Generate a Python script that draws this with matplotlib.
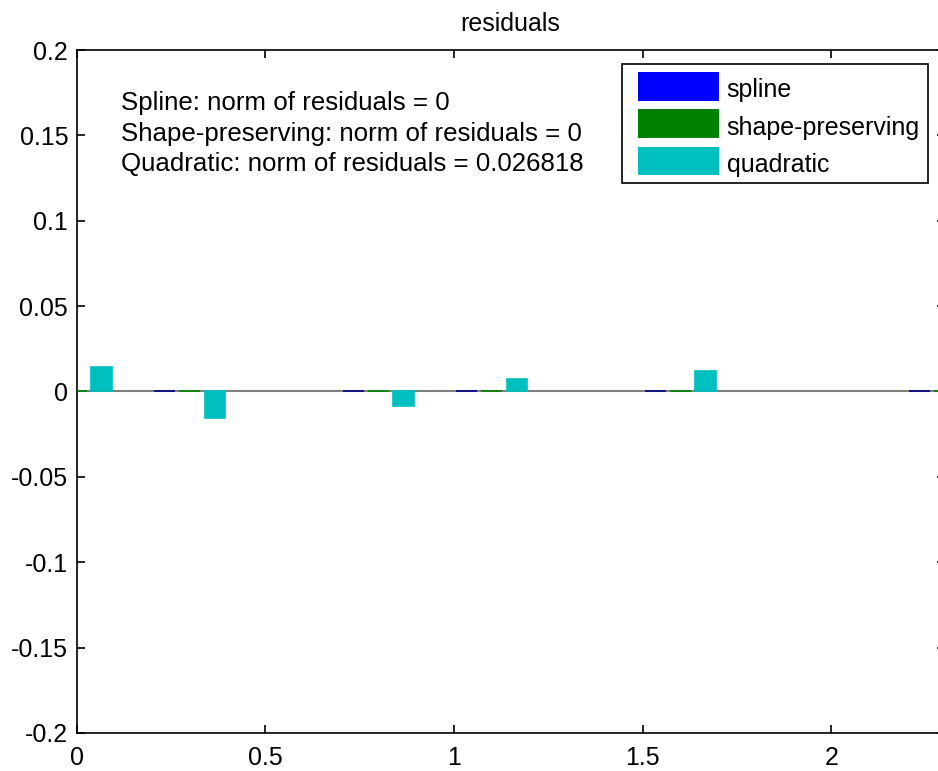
import matplotlib
matplotlib.use("Agg")
import matplotlib.pyplot as plt
import numpy as np
from matplotlib.container import BarContainer
from matplotlib.legend_handler import HandlerPatch, update_from_first_child

# Residuals of each fit at the data sites
x_sites = [0.0, 0.3, 0.8, 1.1, 1.6, 2.3]
spline_res = [0.0, 0.0, 0.0, 0.0, 0.0, 0.0]
shape_res = [0.0, 0.0, 0.0, 0.0, 0.0, 0.0]
quad_res = [0.0142, -0.0154, -0.0082, 0.0072, 0.0119, -0.0048]

series_names = ["spline", "shape-preserving", "quadratic"]
norm_lines = [
    "Spline: norm of residuals = 0",
    "Shape-preserving: norm of residuals = 0",
    "Quadratic: norm of residuals = 0.026818",
]
y_ticks = [-0.2, -0.15, -0.1, -0.05, 0, 0.05, 0.1, 0.15, 0.2]
y_tick_labels = ["-0.2", "-0.15", "-0.1", "-0.05", "0", "0.05", "0.1", "0.15", "0.2"]
x_ticks = [0, 0.5, 1, 1.5, 2]
x_tick_labels = ["0", "0.5", "1", "1.5", "2"]

face_colors = ["#0000ff", "#008000", "#00bfbf"]
edge_colors = ["#00007f", "#008000", "#00bfbf"]

plt.rcParams["font.family"] = ["Liberation Sans", "DejaVu Sans"]
FS = 18

fig = plt.figure(figsize=(9.38, 7.71), dpi=100)
W, H = 938, 771
left_px, right_px, top_px, bottom_px = 76.5, 944.7, 50, 733
ax = fig.add_axes([left_px / W, 1 - bottom_px / H,
                   (right_px - left_px) / W, (bottom_px - top_px) / H])

offset = 0.0667
bar_w = 0.055
x = np.array(x_sites)
bars = []
for i, (vals, fc, ec, name) in enumerate(zip([spline_res, shape_res, quad_res],
                                             face_colors, edge_colors, series_names)):
    b = ax.bar(x + (i - 1) * offset, vals, width=bar_w, color=fc,
               edgecolor=ec, linewidth=1.2, label=name, zorder=3)
    bars.append(b)

ax.axhline(0, color="#808080", linewidth=1.5, zorder=2)

ax.set_xlim(0, 2.3)
ax.set_ylim(-0.2, 0.2)
ax.set_xticks(x_ticks)
ax.set_xticklabels(x_tick_labels)
ax.set_yticks(y_ticks)
ax.set_yticklabels(y_tick_labels)
ax.tick_params(direction="in", length=6, width=1.2, top=True, right=True,
               labelsize=FS, colors="black", zorder=5)
ax.tick_params(axis="y", pad=6)
ax.tick_params(axis="x", pad=9.5)
for s in ax.spines.values():
    s.set_linewidth(1.2)
    s.set_color("black")

ax.set_title("residuals", fontsize=FS, pad=13.5)

# Norm annotations
text_x = (121 - left_px) / (right_px - left_px)
for line, base_px in zip(norm_lines, [110, 141.5, 171.5]):
    ax.text(text_x, (bottom_px - base_px) / (bottom_px - top_px), line,
            transform=ax.transAxes, fontsize=18.6, va="baseline", ha="left")


def legend_swatch(handle, orig):
    # plain filled swatch, no outline
    update_from_first_child(handle, orig)
    handle.set_edgecolor("none")


bar_handler = HandlerPatch(xpad=0.32, update_func=legend_swatch)
leg = ax.legend(loc="upper left", bbox_to_anchor=(622 / W, 1 - 64 / H),
                bbox_transform=fig.transFigure, borderaxespad=0,
                fontsize=FS, fancybox=False, framealpha=1, edgecolor="black",
                borderpad=0.31, labelspacing=0.34, handlelength=3.56,
                handleheight=1.4, handletextpad=0.32,
                handler_map={BarContainer: bar_handler})
leg.get_frame().set_linewidth(1.2)
for t in leg.get_texts():
    t.set_y(-3)

fig.savefig("out.png", dpi=100)
